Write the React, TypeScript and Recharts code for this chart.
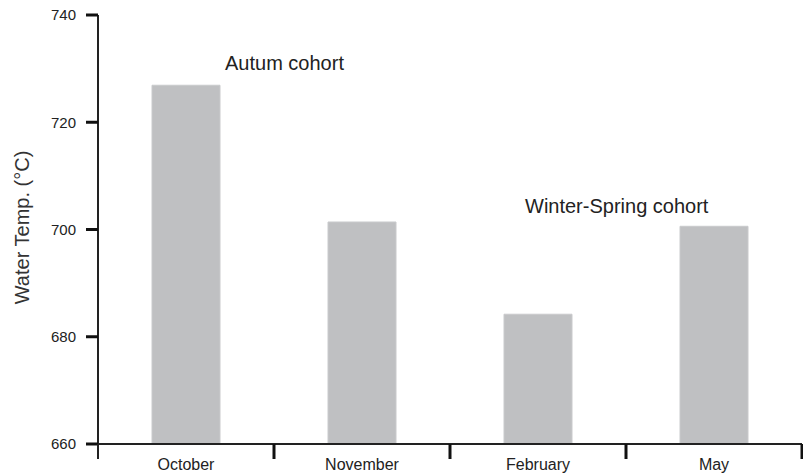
import { Bar, BarChart, XAxis, YAxis } from "recharts";

const months = ["October", "November", "February", "May"];
const temps = [726.9, 701.4, 684.2, 700.6];
const yTicks = [660, 680, 700, 720, 740];

const data = months.map((month, i) => ({ month, temp: temps[i] }));

const W = 803;
const H = 473;
const AXIS_W = 98;
const RIGHT = 1;
const band = (W - AXIS_W - RIGHT) / months.length;
const font = "'Liberation Sans', Arial, sans-serif";

function MonthTick(props: any) {
  const { x, y, payload, index } = props;
  return (
    <g>
      <text
        x={x}
        y={y + 26}
        textAnchor="middle"
        fontSize={16}
        fill="#222"
        fontFamily={font}
      >
        {payload.value}
      </text>
      <line x1={x + band / 2} x2={x + band / 2} y1={y} y2={y + 15} stroke="#111" strokeWidth={3} />
      {index === 0 && (
        <line x1={x - band / 2} x2={x - band / 2} y1={y} y2={y + 15} stroke="#222" strokeWidth={2} />
      )}
    </g>
  );
}

export default function App() {
  return (
    <div style={{ position: "absolute", left: 0, top: 0, width: W, height: H, background: "#fff" }}>
      <BarChart
        width={W}
        height={H}
        data={data}
        margin={{ top: 15, right: RIGHT, left: 0, bottom: 0 }}
      >
        <XAxis
          dataKey="month"
          height={29}
          tickSize={0}
          tickMargin={0}
          axisLine={{ stroke: "#222", strokeWidth: 2 }}
          tick={<MonthTick />}
          interval={0}
        />
        <YAxis
          width={AXIS_W}
          domain={[660, 740]}
          ticks={yTicks}
          tickSize={12}
          tickMargin={10}
          axisLine={{ stroke: "#222", strokeWidth: 2 }}
          tickLine={{ stroke: "#111", strokeWidth: 3 }}
          tick={{ fontSize: 15, fill: "#222", fontFamily: font }}
          label={{
            value: "Water Temp. (°C)",
            angle: -90,
            position: "insideLeft",
            offset: 22,
            dy: -2,
            style: { textAnchor: "middle", fontSize: 20, fill: "#333", fontFamily: font },
          }}
        />
        <Bar
          dataKey="temp"
          fill="#bfc0c2"
          stroke="#c9cacc"
          strokeWidth={1}
          barSize={68}
          isAnimationActive={false}
        />
      </BarChart>
      <div
        style={{
          position: "absolute",
          left: 225,
          top: 52,
          fontSize: 20,
          fontFamily: font,
          color: "#222",
          whiteSpace: "nowrap",
        }}
      >
        Autum cohort
      </div>
      <div
        style={{
          position: "absolute",
          left: 525,
          top: 195,
          fontSize: 20,
          fontFamily: font,
          color: "#222",
          whiteSpace: "nowrap",
        }}
      >
        Winter-Spring cohort
      </div>
    </div>
  );
}
